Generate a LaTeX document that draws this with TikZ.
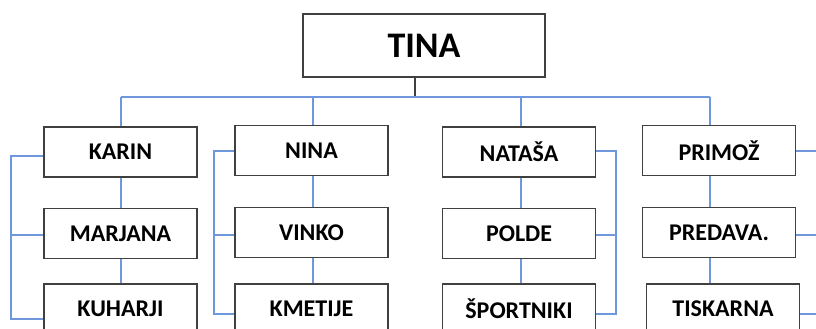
\documentclass[tikz,border=0pt]{standalone}
\usepackage{fontspec}
\setmainfont{Carlito}
\definecolor{boxgray}{HTML}{404040}
\definecolor{linkblue}{HTML}{6F97DB}
\begin{document}
\begin{tikzpicture}[x=1pt,y=-1pt,
  box/.style={draw=boxgray,line width=1.5pt,fill=white,minimum width=153pt,minimum height=50pt,inner sep=0pt,font=\bfseries\fontsize{24}{28}\selectfont},
  link/.style={draw=linkblue,line width=1.1pt}]
\clip (0,0) rectangle (816,329);
\node[box,minimum width=242pt,minimum height=63pt,font=\bfseries\fontsize{36}{40}\selectfont] (tina) at (424,45.5) {TINA};
% column 1
\node[box] (karin) at (120.5,152) {KARIN};
\node[box] (marjana) at (120.5,233.5) {MARJANA};
\node[box] (kuharji) at (120.5,309) {KUHARJI};
% column 2
\node[box] (nina) at (311.5,150.5) {NINA};
\node[box] (vinko) at (311.5,232.5) {VINKO};
\node[box] (kmetije) at (311.5,309) {KMETIJE};
% column 3
\node[box] (natasa) at (519,152) {NATAŠA};
\node[box] (polde) at (519,233.5) {POLDE};
\node[box] (sportniki) at (519,309) {ŠPORTNIKI};
% column 4
\node[box] (primoz) at (719,150.5) {PRIMOŽ};
\node[box] (predava) at (719,232.5) {PREDAVA.};
\node[box] (tiskarna) at (723,309) {TISKARNA};
% junctions
\coordinate (j0) at (415,97);
\coordinate (h1) at (121,97);
\coordinate (h2) at (313,97);
\coordinate (h3) at (521,97);
\coordinate (h4) at (710,97);
\draw[boxgray,line width=1.3pt] (tina.south -| j0) -- (j0);
\draw[link] (h1) -- (h4);
\draw[link] (h1) -- (h1 |- karin.north);
\draw[link] (h2) -- (h2 |- nina.north);
\draw[link] (h3) -- (h3 |- natasa.north);
\draw[link] (h4) -- (h4 |- primoz.north);
% vertical chains
\draw[link] (karin.south -| h1) -- (marjana.north -| h1);
\draw[link] (marjana.south -| h1) -- (kuharji.north -| h1);
\draw[link] (nina.south -| h2) -- (vinko.north -| h2);
\draw[link] (vinko.south -| h2) -- (kmetije.north -| h2);
\draw[link] (natasa.south -| h3) -- (polde.north -| h3);
\draw[link] (polde.south -| h3) -- (sportniki.north -| h3);
\draw[link] (primoz.south -| h4) -- (predava.north -| h4);
\draw[link] (predava.south -| h4) -- (tiskarna.north -| h4);
% bracket column 1
\coordinate (k1) at (11,156);
\coordinate (k2) at (11,235);
\coordinate (k3) at (11,319);
\draw[link] (karin.west |- k1) -- (k1) -- (k3) -- (kuharji.west |- k3);
\draw[link] (k2) -- (marjana.west |- k2);
% bracket column 2
\coordinate (n1) at (214,151);
\coordinate (n2) at (214,235);
\coordinate (n3) at (214,314);
\draw[link] (nina.west |- n1) -- (n1) -- (n3) -- (kmetije.west |- n3);
\draw[link] (n2) -- (vinko.west |- n2);
% bracket column 3
\coordinate (s1) at (616,151);
\coordinate (s2) at (616,235);
\coordinate (s3) at (616,314);
\draw[link] (natasa.east |- s1) -- (s1) -- (s3) -- (sportniki.east |- s3);
\draw[link] (s2) -- (polde.east |- s2);
% ties column 4
\coordinate (p1) at (816,151);
\coordinate (p2) at (816,235);
\coordinate (p3) at (816,314);
\draw[link] (primoz.east |- p1) -- (p1);
\draw[link] (predava.east |- p2) -- (p2);
\draw[link] (tiskarna.east |- p3) -- (p3);
\end{tikzpicture}
\end{document}
